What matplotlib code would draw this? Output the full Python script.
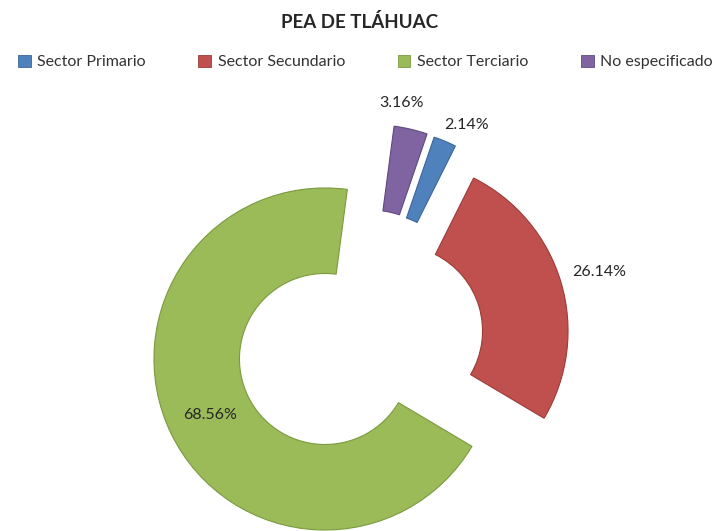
import matplotlib.pyplot as plt
from matplotlib.patches import Patch
import numpy as np

# PEA de Tláhuac por sector (%)
sectores = ['Sector Primario', 'Sector Secundario', 'Sector Terciario', 'No especificado']
porcentajes = [2.14, 26.14, 68.56, 3.16]

colores = ['#4F81BD', '#C0504D', '#9BBB59', '#8064A2']
bordes = ['#3A659A', '#9B3B38', '#7A9A3E', '#60497F']
separacion = [0.27, 0.22, 0.234, 0.275]
# distancia de la etiqueta (en radios) y giro respecto a la bisectriz (grados)
dist_etiqueta = [1.14, 1.23, 0.75, 1.14]
giro_etiqueta = [-4, 0, 0, 4.4]

plt.rcParams['font.family'] = ['Lato', 'DejaVu Sans']

fig = plt.figure(figsize=(7.19, 5.31), dpi=100)
ax = fig.add_axes([0, 0, 1, 1])

wedges, _ = ax.pie(porcentajes, colors=colores, explode=separacion,
                   startangle=71.1, counterclock=False, radius=1,
                   wedgeprops=dict(width=0.5, linewidth=0.8))
for w, b in zip(wedges, bordes):
    w.set_edgecolor(b)

for w, p, d, g in zip(wedges, porcentajes, dist_etiqueta, giro_etiqueta):
    ang = np.radians((w.theta1 + w.theta2) / 2 + g)
    cx, cy = w.center
    ax.text(cx + d * np.cos(ang), cy + d * np.sin(ang), f'{p:.2f}%',
            ha='center', va='center', fontsize=11.5, color='#262626')

ax.set_xlim(-2.111, 2.094)
ax.set_ylim(-1.108, 1.997)
ax.set_aspect('auto')
ax.axis('off')

fig.text(0.5, 1 - 22 / 531, 'PEA DE TLÁHUAC', ha='center', va='center',
         fontsize=13.5, fontweight='bold', color='#262626')

handles = [Patch(facecolor=c, edgecolor=b, linewidth=0.6) for c, b in zip(colores, bordes)]
fig.legend(handles, sectores, loc='center', bbox_to_anchor=(0.508, 1 - 62 / 531),
           ncol=4, frameon=False, fontsize=11.5, handlelength=0.8, handleheight=0.8,
           handletextpad=0.4, columnspacing=3.3, labelcolor='#333333')

fig.savefig('out.png', dpi=100)
